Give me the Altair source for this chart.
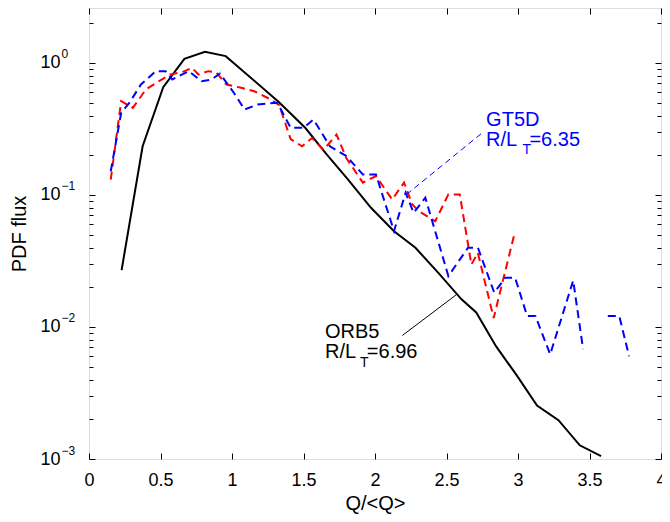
import altair as alt
import pandas as pd

# ---------------- data ----------------
orb_x = [0.228, 0.375, 0.519, 0.667, 0.811, 0.956, 1.329, 1.512, 1.662, 1.812, 1.972,
         2.133, 2.283, 2.443, 2.605, 2.708, 2.846, 2.995, 3.133, 3.283, 3.432, 3.581]
orb_y = [0.027, 0.234, 0.656, 1.076, 1.216, 1.127, 0.505, 0.323, 0.203, 0.131, 0.080,
         0.0532, 0.0398, 0.0257, 0.0162, 0.0129, 0.00716, 0.00424, 0.00254, 0.00197, 0.00127, 0.00105]

red_x = [0.152, 0.225, 0.306, 0.398, 0.49, 0.57, 0.66, 0.72, 0.766, 0.834, 0.89, 0.961,
         1.064, 1.156, 1.271, 1.33, 1.41, 1.49, 1.56, 1.64, 1.731, 1.80, 1.915, 2.007,
         2.12, 2.203, 2.26, 2.306, 2.421, 2.513, 2.593, 2.674, 2.719, 2.83, 2.977]
red_y = [0.131, 0.514, 0.457, 0.63, 0.73, 0.818, 0.86, 0.92, 0.818, 0.867, 0.85, 0.687,
         0.649, 0.611, 0.529, 0.48, 0.265, 0.234, 0.27, 0.22, 0.287, 0.19, 0.124, 0.139,
         0.0925, 0.124, 0.085, 0.0754, 0.0633, 0.101, 0.101, 0.0297, 0.0365, 0.0117, 0.0517]

gt_x = [0.152, 0.225, 0.283, 0.363, 0.467, 0.536, 0.582, 0.697, 0.788, 0.857, 0.915, 1.02,
        1.088, 1.179, 1.317, 1.41, 1.50, 1.57, 1.685, 1.80, 1.915, 2.007, 2.133, 2.214,
        2.27, 2.352, 2.513, 2.65, 2.72, 2.834, 2.911, 2.98, 3.064, 3.122, 3.225, 3.386,
        3.455, 3.53, 3.628, 3.708, 3.777]
gt_y = [0.151, 0.42, 0.50, 0.687, 0.867, 0.867, 0.75, 0.867, 0.728, 0.75, 0.832, 0.58,
        0.444, 0.485, 0.50, 0.323, 0.323, 0.373, 0.234, 0.197, 0.143, 0.143, 0.0532, 0.104,
        0.0733, 0.0953, 0.0243, 0.0398, 0.0398, 0.0182, 0.0236, 0.0236, 0.0121, 0.0121, 0.0062, 0.0225,
        0.0068, None, 0.0121, 0.0121, 0.0060]

# annotation leader lines (data coordinates)
gt_lead_x = [2.752, 2.221]
gt_lead_y = [0.297, 0.101]
orb_lead_x = [2.191, 2.570]
orb_lead_y = [0.00862, 0.0176]

# annotation texts
txt_t = ["GT5D", "R/L", "T", "=6.35", "ORB5", "R/L", "T", "=6.96"]
txt_x = [2.777, 2.777, 3.032, 3.080, 1.650, 1.650, 1.895, 1.943]
txt_y = [0.332, 0.234, 0.203, 0.234, 0.00824, 0.00581, 0.00499, 0.00581]
txt_fs = [20, 20, 14, 20, 20, 20, 14, 20]
txt_c = ["blue", "blue", "blue", "blue", "black", "black", "black", "black"]

x_ticks = [0, 0.5, 1, 1.5, 2, 2.5, 3, 3.5, 4]
y_major = [0.001, 0.01, 0.1, 1]
y_minor = [round(m * 10.0 ** d, 6) for d in range(-3, 1) for m in range(2, 10)] + [2]

# ---------------- chart ----------------
W, H = 572, 451
FONT = "Liberation Sans"
xscale = alt.Scale(domain=[0, 4], nice=False, zero=False)
yscale = alt.Scale(type="log", domain=[0.001, 2.61], nice=False)


def tick_axis(orient, values, size):
    return alt.Axis(orient=orient, values=values, labels=False, domain=False, grid=False,
                    ticks=True, tickSize=size, offset=-size, title=None,
                    tickColor="black", tickWidth=1)


orb = pd.DataFrame({"x": orb_x, "y": orb_y})
red = pd.DataFrame({"x": red_x, "y": red_y})
gt = pd.DataFrame({"x": gt_x, "y": gt_y})
gt_lead = pd.DataFrame({"x": gt_lead_x, "y": gt_lead_y})
orb_lead = pd.DataFrame({"x": orb_lead_x, "y": orb_lead_y})
txt = pd.DataFrame({"x": txt_x, "y": txt_y, "t": txt_t, "fs": txt_fs, "c": txt_c})

x_main_axis = alt.Axis(orient="bottom", values=x_ticks, labelExpr="'' + datum.value",
                       labelFontSize=18, labelPadding=12, labelBaseline="top", labelFlush=False,
                       ticks=False, domain=False, grid=False, title="Q/<Q>", titleFontSize=20,
                       titleY=50, titleBaseline="alphabetic", titleFontWeight="normal")
y_main_axis = alt.Axis(orient="left", values=y_major, labelExpr="'10'", labelFontSize=18,
                       labelAlign="right", labelBaseline="middle", labelPadding=29, labelFlush=False,
                       ticks=False, domain=False, grid=False, title="PDF flux", titleFontSize=20,
                       titleX=-60, titleY=H / 2, titleAngle=270, titleAlign="center",
                       titleBaseline="bottom", titleFontWeight="normal")
y_exp_axis = alt.Axis(orient="left", values=y_major,
                      labelExpr="datum.value >= 0.5 ? '0' : datum.value >= 0.05 ? '−1' : datum.value >= 0.005 ? '−2' : '−3'",
                      labelFontSize=12, labelAlign="left", labelBaseline="middle", labelPadding=28,
                      labelOffset=-9, labelFlush=False, ticks=False, domain=False, grid=False, title=None)

l_orb = alt.Chart(orb).mark_line(color="black", strokeWidth=2, clip=True).encode(
    x=alt.X("x:Q", scale=xscale, axis=x_main_axis),
    y=alt.Y("y:Q", scale=yscale, axis=y_main_axis),
)
l_red = alt.Chart(red).mark_line(color="#ff0000", strokeWidth=2, strokeDash=[8, 5], clip=True).encode(
    x=alt.X("x:Q", scale=xscale, axis=tick_axis("bottom", x_ticks, 6)),
    y=alt.Y("y:Q", scale=yscale, axis=y_exp_axis),
)
l_gt = alt.Chart(gt).mark_line(color="#0000ff", strokeWidth=2, strokeDash=[8, 5], clip=True).encode(
    x=alt.X("x:Q", scale=xscale, axis=tick_axis("top", x_ticks, 6)),
    y=alt.Y("y:Q", scale=yscale, axis=tick_axis("left", y_major, 6)),
)
l_gt_lead = alt.Chart(gt_lead).mark_line(color="#0000ff", strokeWidth=1, strokeDash=[6, 4]).encode(
    x=alt.X("x:Q", scale=xscale, axis=None),
    y=alt.Y("y:Q", scale=yscale, axis=tick_axis("left", y_minor, 4)),
)
l_orb_lead = alt.Chart(orb_lead).mark_line(color="black", strokeWidth=1).encode(
    x=alt.X("x:Q", scale=xscale, axis=None),
    y=alt.Y("y:Q", scale=yscale, axis=tick_axis("right", y_major, 6)),
)
l_txt = alt.Chart(txt).mark_text(align="left", baseline="alphabetic", font=FONT).encode(
    x=alt.X("x:Q", scale=xscale, axis=None),
    y=alt.Y("y:Q", scale=yscale, axis=tick_axis("right", y_minor, 4)),
    text="t:N",
    size=alt.Size("fs:Q", scale=None),
    color=alt.Color("c:N", scale=None),
)

chart = alt.layer(l_orb, l_red, l_gt, l_gt_lead, l_orb_lead, l_txt).resolve_axis(
    x="independent", y="independent"
).properties(
    width=W, height=H,
    autosize=alt.AutoSizeParams(type="none"),
    padding={"left": 81, "top": 0, "right": 1, "bottom": 55},
).configure_view(
    stroke="black", strokeWidth=1.5
).configure_axis(
    labelFont=FONT, titleFont=FONT, labelColor="black", titleColor="black"
).configure(background="white")

chart.save("out.html", embed_options={"renderer": "svg", "actions": False})
